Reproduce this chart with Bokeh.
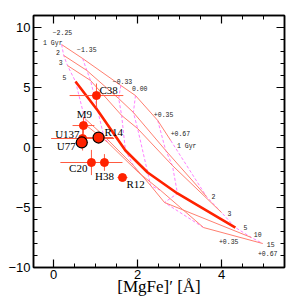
from bokeh.plotting import figure
from bokeh.models import FixedTicker, LinearAxis, Label, Range1d, ColumnDataSource
from bokeh.core.properties import value
from bokeh.embed import file_html
from bokeh.resources import INLINE

# ---- model grid (rows: ages, columns: metallicities) ----
ages = ["1", "2", "3", "5", "10", "15"]
metallicities = ["\u22122.25", "\u22121.35", "\u22120.33", "0.00", "+0.35", "+0.67"]
mgfe_grid = [
    [0.19, 0.69, 1.60, 1.95, 2.48, 2.79],
    [0.24, 0.79, 1.55, 1.90, 2.67, 3.64],
    [0.33, 0.88, 1.62, 2.00, 2.83, 4.00],
    [0.52, 1.05, 1.71, 2.24, 2.95, 4.33],
    [0.74, 1.19, 1.90, 2.31, 2.64, 4.71],
    [0.81, 1.29, 2.02, 2.55, 3.57, 4.98],
]
hg_grid = [
    [8.58, 7.42, 5.17, 4.33, 2.25, 0.58],
    [7.67, 6.42, 4.08, 2.92, -0.25, -4.08],
    [6.83, 5.58, 2.67, 1.58, -1.50, -5.42],
    [5.50, 3.08, -0.25, -2.08, -3.83, -6.67],
    [2.42, 1.00, -1.50, -3.17, -4.58, -7.50],
    [1.75, 0.42, -2.08, -3.58, -6.67, -8.00],
]
highlight_age = "5"

# grid annotation texts and their positions
grid_text = ["1 Gyr", "2", "3", "5",
             "\u22122.25", "\u22121.35", "\u22120.33", "0.00", "+0.35", "+0.67", "1 Gyr",
             "2", "3", "5", "10", "15", "+0.35", "+0.67"]
grid_text_x = [-0.02, 0.10, 0.17, 0.26,
               0.21, 0.79, 1.64, 2.05, 2.62, 3.02, 3.17,
               3.81, 4.19, 4.57, 4.86, 5.17, 4.17, 5.10]
grid_text_y = [8.67, 7.92, 7.08, 5.83,
               9.58, 8.17, 5.50, 4.92, 2.75, 1.17, 0.08,
               -4.08, -5.50, -6.67, -7.25, -8.08, -7.83, -8.83]

# ---- observed clusters ----
names = ["C38", "M9", "U137", "U77", "R14", "C20", "H38", "R12"]
mgfe = [1.02, 0.71, 0.69, 0.67, 1.07, 0.90, 1.21, 1.64]
mgfe_err = [0.64, 0.26, 0.75, 0.15, 0.35, 0.74, 0.30, 0.12]
hg = [4.33, 1.83, 0.75, 0.42, 0.83, -1.25, -1.25, -2.50]
hg_err = [1.00, 0.70, 1.00, 0.50, 0.30, 1.05, 0.70, 0.15]
ringed = ["U77", "R14"]

x_ticks = [0, 2, 4]
y_ticks = [-10, -5, 0, 5, 10]

RED = "#ff2200"
SALMON = "#ff7f70"
VIOLET = "#ff80ff"

p = figure(width=300, height=300, x_range=Range1d(-0.48, 5.5), y_range=Range1d(-10, 11),
           output_backend="svg", toolbar_location=None,
           min_border_left=33, min_border_right=16, min_border_top=15, min_border_bottom=33)
p.background_fill_color = "white"
p.border_fill_color = "white"
p.xgrid.visible = False
p.ygrid.visible = False
p.outline_line_color = "black"
p.outline_line_width = 1.5

# iso-metallicity lines (dashed)
for j in range(len(metallicities)):
    p.line([row[j] for row in mgfe_grid], [row[j] for row in hg_grid],
           line_color=VIOLET, line_width=1, line_dash="3 2")
# iso-age lines
for i, a in enumerate(ages):
    if a == highlight_age:
        continue
    p.line(mgfe_grid[i], hg_grid[i], line_color=SALMON, line_width=1)
i5 = ages.index(highlight_age)
p.line(mgfe_grid[i5], hg_grid[i5], line_color=RED, line_width=2.6)

p.text(grid_text_x, grid_text_y, text=grid_text, text_font=value("Liberation Mono"),
       text_font_size="6.5px", text_color="#222222", text_align="center",
       text_baseline="middle")

# error bars
x0 = [m - e for m, e in zip(mgfe, mgfe_err)]
x1 = [m + e for m, e in zip(mgfe, mgfe_err)]
y0 = [h - e for h, e in zip(hg, hg_err)]
y1 = [h + e for h, e in zip(hg, hg_err)]
p.segment(x0, hg, x1, hg, line_color="#ff5a40", line_width=1)
p.segment(mgfe, y0, mgfe, y1, line_color="#ff5a40", line_width=1)

plain = [k for k, n in enumerate(names) if n not in ringed]
ring = [k for k, n in enumerate(names) if n in ringed]
p.scatter([mgfe[k] for k in plain], [hg[k] for k in plain], size=8,
          fill_color=RED, line_color=RED)
p.scatter([mgfe[k] for k in ring], [hg[k] for k in ring], size=11,
          fill_color=RED, line_color="black", line_width=1.2)

lab_align = ["left", "center", "right", "right", "left", "right", "center", "left"]
lab_dx = [3, 1, -3, -6, 6, -4, 0, 4]
lab_dy = [-6, -12, -5, 4, -6, 5, 13, 6]
src = ColumnDataSource(dict(x=mgfe, y=hg, t=names, a=lab_align, dx=lab_dx, dy=lab_dy))
p.text("x", "y", text="t", source=src, text_align="a", x_offset="dx", y_offset="dy",
       text_baseline="middle", text_font=value("Liberation Serif"),
       text_font_size="11px", text_color="black")

# axes
minor_x = [v / 2 for v in range(-1, 12)]
minor_y = list(range(-10, 12))
def style(ax, labels=True):
    ax.axis_line_width = 1.5
    ax.major_tick_in = 8
    ax.major_tick_out = 0
    ax.minor_tick_in = 4
    ax.minor_tick_out = 0
    ax.major_tick_line_width = 1.2
    ax.minor_tick_line_width = 1
    ax.major_label_text_font = "Liberation Sans"
    if labels:
        ax.major_label_text_font_size = "13px"
        ax.major_label_standoff = 3
        ax.major_label_text_color = "black"
    else:
        ax.major_label_text_font_size = "6px"
        ax.major_label_standoff = 0
        ax.major_label_text_color = None
        ax.axis_label_standoff = 0

style(p.xaxis[0])
p.xaxis[0].ticker = FixedTicker(ticks=x_ticks, minor_ticks=minor_x)
p.xaxis[0].major_label_standoff = 2
p.xaxis[0].axis_label = "[MgFe]\u2032 [\u00c5]"
p.xaxis[0].axis_label_text_font = "Liberation Serif"
p.xaxis[0].axis_label_text_font_style = "normal"
p.xaxis[0].axis_label_text_font_size = "17px"
p.xaxis[0].axis_label_text_color = "black"
p.xaxis[0].axis_label_standoff = -5
style(p.yaxis[0])
p.yaxis[0].ticker = FixedTicker(ticks=y_ticks, minor_ticks=minor_y)
p.yaxis[0].major_label_overrides = {t: (str(t).replace("-", "\u2212")) for t in y_ticks}

top = LinearAxis(ticker=FixedTicker(ticks=x_ticks, minor_ticks=minor_x))
style(top, labels=False)
p.add_layout(top, "above")
right = LinearAxis(ticker=FixedTicker(ticks=y_ticks, minor_ticks=minor_y))
style(right, labels=False)
p.add_layout(right, "right")

p.add_layout(Label(x=-1.02, y=0.5, text="H\u03b3 [\u00c5]", angle=90, angle_units="deg",
                   text_align="center", text_baseline="middle",
                   text_font="Liberation Serif", text_font_size="16px", text_color="black"))

open("out.html", "w").write(file_html(p, INLINE))
